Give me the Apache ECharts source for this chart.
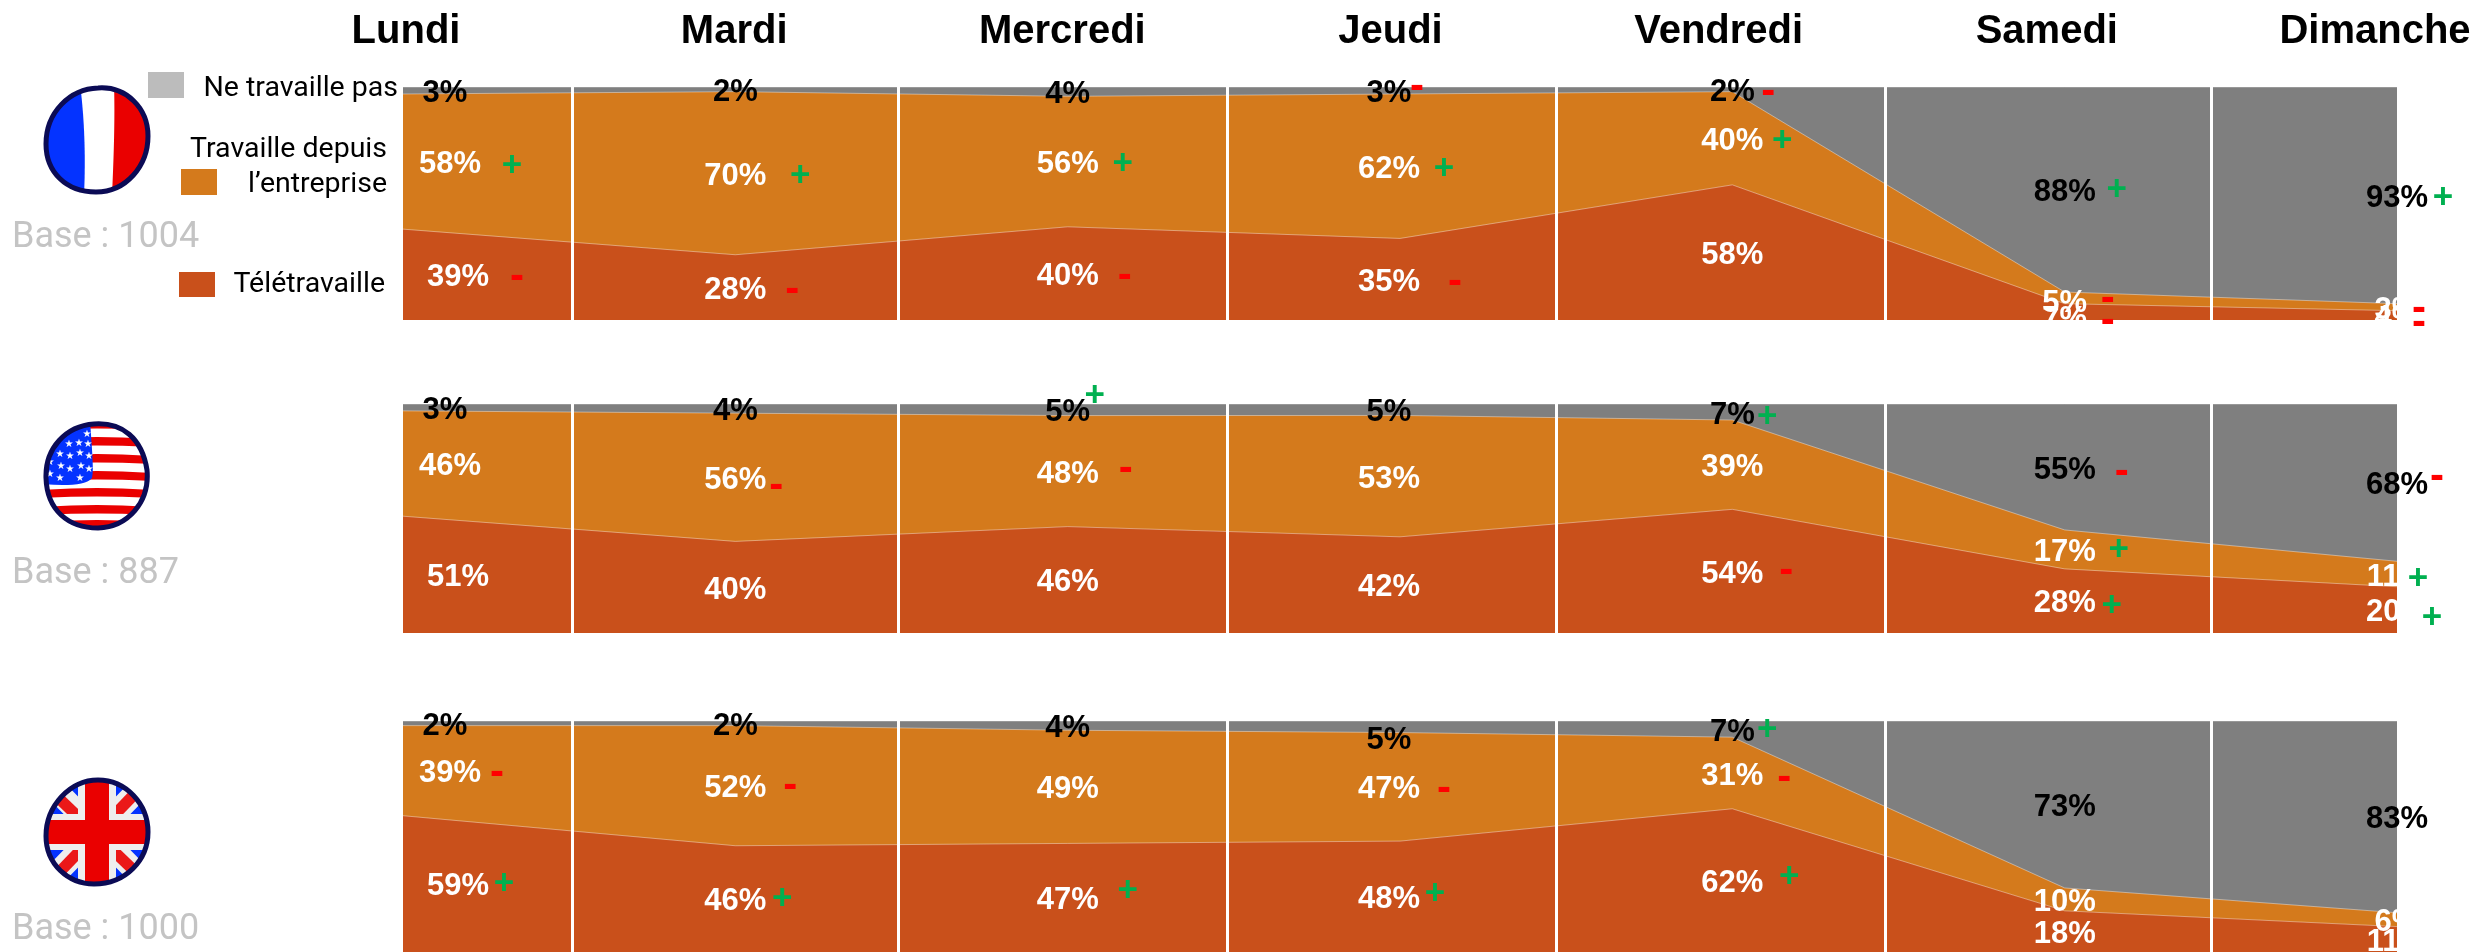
<!DOCTYPE html>
<html>
<head>
<meta charset="utf-8">
<title>Télétravail par jour</title>
<script src="https://cdn.jsdelivr.net/npm/echarts@6/dist/echarts.min.js"></script>
<style>
  html, body { margin: 0; background: #fff; }
  #chart { width: 2478px; height: 952px; }
</style>
</head>
<body>
<div id="chart"></div>
<script>
const days = ['Lundi', 'Mardi', 'Mercredi', 'Jeudi', 'Vendredi', 'Samedi', 'Dimanche'];

// valeurs (%)
const frTele = [39, 28, 40, 35, 58, 7, 4];
const frEnt = [58, 70, 56, 62, 40, 5, 3];
const frNon = [3, 2, 4, 3, 2, 88, 93];
const usTele = [51, 40, 46, 42, 54, 28, 20];
const usEnt = [46, 56, 48, 53, 39, 17, 11];
const usNon = [3, 4, 5, 5, 7, 55, 68];
const ukTele = [59, 46, 47, 48, 62, 18, 11];
const ukEnt = [39, 52, 49, 47, 31, 10, 6];
const ukNon = [2, 2, 4, 5, 7, 73, 83];

// signes + / - à côté des pourcentages
const frTeleSign = ['-', '-', '-', '-', '', '-', '-'];
const frEntSign = ['+', '+', '+', '+', '+', '-', '-'];
const frNonSign = ['', '', '', '-', '-', '+', '+'];
const usTeleSign = ['', '', '', '', '-', '+', '+'];
const usEntSign = ['', '-', '-', '', '', '+', '+'];
const usNonSign = ['', '', '+', '', '+', '-', '-'];
const ukTeleSign = ['+', '+', '+', '+', '+', '', ''];
const ukEntSign = ['-', '-', '', '-', '-', '', ''];
const ukNonSign = ['', '', '', '', '+', '', ''];

const bases = ['Base : 1004', 'Base : 887', 'Base : 1000'];

const COLORS = { tele: '#c9501b', ent: '#d47a1c', non: '#7f7f7f' };
const PANEL_TOPS = [87, 404, 721];
const PANEL_HEIGHTS = [233, 229, 232];
const PLOT_LEFT = 403;
const PLOT_W = 1994;
const LABEL_FONT = '"Liberation Sans", Arial, sans-serif';
const TEXT_FONT = 'Roboto, sans-serif';
const LABEL_SIZE = 31;
const LAYERS = ['tele', 'ent', 'non'];

// traits blancs verticaux, en unités de l'axe x
const sepAt = [0.5064, 1.4925, 2.4795, 3.4664, 4.455, 5.442];

// décalage (px) des étiquettes
const mondayShift = { tele: 55, ent: 47, non: 42 };
const thursdayShift = -11;
const LABEL_BASE_DY = 3;
const labelDy = { 'fr.tele.5': 5, 'fr.ent.5': 3, 'uk.non.3': 11 };

// décalage (px) des signes par rapport à l'étiquette
const signShift = {
  fr: {
    tele: [[59, 0], [57, 0], [57, 0], [66, 0], null, [43, 2], [22, 5]],
    ent: [[62, 2], [65, 0], [55, 0], [55, 0], [50, 0], [43, -4], [22, -1]],
    non: [null, null, null, [28, -6], [36, 0], [52, -2], [46, 0]]
  },
  us: {
    tele: [null, null, null, null, [54, -3], [47, 2], [35, 5]],
    ent: [null, [41, 6], [58, -5], null, null, [54, -2], [21, 2]],
    non: [null, null, [27, -16], null, [35, 2], [57, 2], [40, -8]]
  },
  uk: {
    tele: [[46, -3], [47, -3], [60, -9], [46, -5], [57, -6], null, null],
    ent: [[47, 0], [55, -2], null, [55, 0], [52, 2], null, null],
    non: [null, null, null, null, [35, -2], null, null]
  }
};

const panels = [
  { key: 'fr', tele: frTele, ent: frEnt, non: frNon, signs: { tele: frTeleSign, ent: frEntSign, non: frNonSign } },
  { key: 'us', tele: usTele, ent: usEnt, non: usNon, signs: { tele: usTeleSign, ent: usEntSign, non: usNonSign } },
  { key: 'uk', tele: ukTele, ent: ukEnt, non: ukNon, signs: { tele: ukTeleSign, ent: ukEntSign, non: ukNonSign } }
];

const grids = [], xAxes = [], yAxes = [], series = [];

panels.forEach((p, i) => {
  grids.push({ left: PLOT_LEFT, width: PLOT_W, top: PANEL_TOPS[i], height: PANEL_HEIGHTS[i] });
  xAxes.push({ type: 'value', gridIndex: i, min: 0, max: 6, show: false });
  yAxes.push({ type: 'value', gridIndex: i, min: 0, max: 100, show: false });

  // les parts sont ramenées à 100 (arrondis), comme un graphique empilé 100 %
  const total = days.map((d, j) => p.tele[j] + p.ent[j] + p.non[j]);
  const share = (layer, j) => p[layer][j] / total[j] * 100;
  const below = (n, j) => {
    let sum = 0;
    for (let k = 0; k < n; k++) sum += share(LAYERS[k], j);
    return sum;
  };

  // aires cumulées : la couche du dessus d'abord, celle du bas par-dessus
  [2, 1, 0].forEach(n => {
    const layer = LAYERS[n];
    series.push({
      name: layer,
      type: 'line',
      xAxisIndex: i,
      yAxisIndex: i,
      showSymbol: false,
      z: 4 - n,
      lineStyle: { color: 'rgba(255,255,255,0.4)', width: 1 },
      areaStyle: { color: COLORS[layer], opacity: 1 },
      data: days.map((d, j) => [j, below(n + 1, j)]),
      markLine: n !== 0 ? undefined : {
        silent: true,
        symbol: 'none',
        animation: false,
        label: { show: false },
        lineStyle: { color: '#fff', width: 3, type: 'solid', opacity: 1 },
        data: sepAt.map(v => ({ xAxis: v }))
      }
    });
  });

  LAYERS.forEach((layer, n) => {
    const labelOffset = (j) => {
      let dx = 0;
      if (j === 0) dx = mondayShift[layer];
      if (j === 3) dx = thursdayShift;
      return [dx, LABEL_BASE_DY + (labelDy[p.key + '.' + layer + '.' + j] || 0)];
    };

    // étiquettes de pourcentage, au milieu de chaque bande
    series.push({
      type: 'scatter',
      xAxisIndex: i,
      yAxisIndex: i,
      symbolSize: 0,
      clip: false,
      z: 6,
      silent: true,
      itemStyle: { opacity: 1 },
      data: days.map((d, j) => ({
        value: [j, below(n, j) + share(layer, j) / 2],
        label: {
          show: true,
          position: 'inside',
          offset: labelOffset(j),
          formatter: p[layer][j] + '%',
          color: layer === 'non' ? '#000' : '#fff',
          fontFamily: LABEL_FONT,
          fontWeight: 'bold',
          fontSize: LABEL_SIZE
        }
      }))
    });

    // signes + et -
    series.push({
      type: 'scatter',
      xAxisIndex: i,
      yAxisIndex: i,
      symbolSize: 0,
      clip: false,
      z: 7,
      silent: true,
      itemStyle: { opacity: 1 },
      data: days.map((d, j) => {
        const sign = p.signs[layer][j];
        if (!sign) return null;
        const base = labelOffset(j);
        const shift = signShift[p.key][layer][j];
        return {
          value: [j, below(n, j) + share(layer, j) / 2],
          label: {
            show: true,
            position: 'inside',
            offset: [base[0] + shift[0], base[1] + shift[1]],
            formatter: sign,
            color: sign === '+' ? '#00b050' : '#ff0000',
            fontFamily: LABEL_FONT,
            fontWeight: 'bold',
            fontSize: sign === '+' ? 35 : 42
          }
        };
      }).filter(Boolean)
    });
  });
});

// en-têtes des jours : axe à part, colonnes espacées de 328 px
grids.push({ left: 406, width: 1969, top: 58, height: 1 });
xAxes.push({
  type: 'category',
  gridIndex: 3,
  data: days,
  boundaryGap: false,
  position: 'top',
  axisLine: { show: false },
  axisTick: { show: false },
  axisLabel: {
    interval: 0,
    margin: 4,
    color: '#000',
    fontFamily: LABEL_FONT,
    fontWeight: 'bold',
    fontSize: 40,
    lineHeight: 44
  }
});
yAxes.push({ type: 'value', gridIndex: 3, show: false });
series.push({ type: 'line', xAxisIndex: 3, yAxisIndex: 3, data: [], silent: true });

// drapeaux en SVG
const clipDefs = (shape) => '<defs><clipPath id="c"><path d="' + shape + '"/></clipPath></defs>';
const OUTLINE = '#0b0b55';
const flagSvg = (shape, body) =>
  '<svg xmlns="http://www.w3.org/2000/svg" width="110" height="112" viewBox="0 0 110 112">' +
  clipDefs(shape) + '<g clip-path="url(#c)"><rect width="110" height="112" fill="#fff"/>' + body + '</g>' +
  '<path d="' + shape + '" fill="none" stroke="' + OUTLINE + '" stroke-width="5"/></svg>';

const frShape = 'M56 4 C84 2 106 24 106 52 C106 82 84 108 54 108 C24 108 4 88 4 60 C4 28 28 5 56 4 Z';
const usShape = 'M52 4 C80 2 100 18 105 50 C108 82 86 107 56 108 C26 108 5 90 4 58 C3 28 24 6 52 4 Z';
const ukShape = 'M56 4 C84 4 106 28 106 56 C106 84 84 108 52 108 C26 108 4 88 4 60 C4 30 28 4 56 4 Z';

const frBody =
  '<path d="M0 0 H38 C42 30 44 70 42 112 H0 Z" fill="#0433ff"/>' +
  '<path d="M72 0 H110 V112 H70 C72 70 73 30 72 0 Z" fill="#ea0000"/>';

let usStripes = '';
[0, 17, 34, 51, 68, 85, 100].forEach((y) => {
  usStripes += '<path d="M0 ' + (y + 2) + ' Q55 ' + (y - 2) + ' 110 ' + (y + 2) + ' V' + (y + 10) + ' Q55 ' + (y + 7) + ' 0 ' + (y + 10) + ' Z" fill="#ea0000"/>';
});
const star = (x, y) => '<text x="' + x + '" y="' + y + '" font-size="10" fill="#fff" font-family="DejaVu Sans" text-anchor="middle">★</text>';
let usStars = '';
[[45, 14], [27, 24], [37, 23], [46, 24], [18, 34], [28, 36], [38, 33], [47, 36], [8, 42], [19, 46], [28, 49], [39, 46], [47, 49], [8, 54], [18, 58], [38, 58]]
  .forEach(s => { usStars += star(s[0], s[1] + 3); });
const usBody = usStripes +
  '<path d="M0 0 H48 C50 30 52 50 50 58 C45 66 20 66 0 64 Z" fill="#0433ff"/>' + usStars;

const ukBody =
  '<rect width="110" height="112" fill="#0433ff"/>' +
  '<path d="M0 16 L16 0 L110 96 L94 112 Z M110 16 L94 0 L0 96 L16 112 Z" fill="#eee"/>' +
  '<path d="M0 14 L8 6 L110 104 L102 112 Z" fill="#ea0000" opacity="0.9"/>' +
  '<path d="M102 0 L110 8 L10 112 L2 104 Z" fill="#ea0000" opacity="0.9"/>' +
  '<path d="M36 0 H74 V38 H110 V74 H74 V112 H36 V74 H0 V38 H36 Z" fill="#eee"/>' +
  '<path d="M43 0 H67 V44 H110 V68 H67 V112 H43 V68 H0 V44 H43 Z" fill="#ea0000"/>';

const svgUri = (svg) => 'data:image/svg+xml;charset=utf-8,' + encodeURIComponent(svg);

const flagImage = (svg, y) => ({
  type: 'image', left: 42, top: y, z: 10,
  style: { image: svgUri(svg), width: 110, height: 112 }
});
const legendRect = (x, y, w, h, color) => ({
  type: 'rect', left: x, top: y, z: 10, shape: { width: w, height: h }, style: { fill: color }
});
const rightText = (text, xRight, yMid, color, size) => ({
  type: 'text', z: 10, x: xRight, y: yMid,
  style: { text, fill: color, font: size + 'px ' + TEXT_FONT, textAlign: 'right', textVerticalAlign: 'middle' }
});
const leftText = (text, x, yMid, color, size) => ({
  type: 'text', z: 10, x, y: yMid,
  style: { text, fill: color, font: size + 'px ' + TEXT_FONT, textAlign: 'left', textVerticalAlign: 'middle' }
});

const graphics = [
  flagImage(flagSvg(frShape, frBody), 84),
  flagImage(flagSvg(usShape, usBody), 420),
  flagImage(flagSvg(ukShape, ukBody), 776),
  leftText(bases[0], 12, 238, '#c4c4c4', 36),
  leftText(bases[1], 12, 574, '#c4c4c4', 36),
  leftText(bases[2], 12, 930, '#c4c4c4', 36),
  legendRect(148, 72, 36, 26, '#bcbcbc'),
  rightText('Ne travaille pas', 398, 89, '#000', 28.5),
  legendRect(181, 169, 36, 26, COLORS.ent),
  rightText('Travaille depuis', 387, 150, '#000', 28.5),
  rightText('l’entreprise', 387, 185, '#000', 28.5),
  legendRect(179, 272, 36, 25, COLORS.tele),
  rightText('Télétravaille', 385, 285, '#000', 28.5)
];

const chart = echarts.init(document.getElementById('chart'));
chart.setOption({
  animation: false,
  backgroundColor: '#fff',
  grid: grids,
  xAxis: xAxes,
  yAxis: yAxes,
  series,
  graphic: graphics
});
</script>
</body>
</html>
